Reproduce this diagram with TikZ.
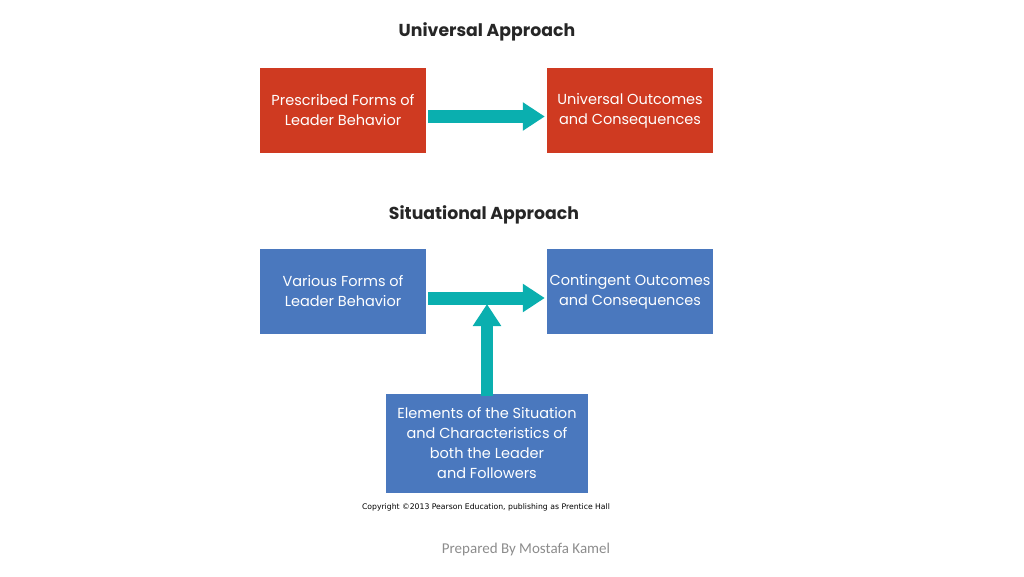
\documentclass[tikz,border=0pt]{standalone}
\usepackage{fontspec}
\setmainfont{Poppins}
\newfontfamily\copyfont{DejaVu Sans}
\newfontfamily\prepfont{Carlito}
\usetikzlibrary{arrows.meta}
\definecolor{boxred}{HTML}{CF3A21}
\definecolor{boxblue}{HTML}{4A78BE}
\definecolor{arrteal}{HTML}{0AAFAF}
\definecolor{prepgray}{HTML}{8C8C8C}
\tikzset{
  redbox/.style={fill=boxred, text=white, minimum width=166pt, minimum height=85pt, inner sep=0pt, align=center, font=\fontsize{14.5}{20}\selectfont},
  bluebox/.style={fill=boxblue, text=white, minimum width=166pt, minimum height=85pt, inner sep=0pt, align=center, font=\fontsize{14.5}{20}\selectfont},
  titletext/.style={font=\fontsize{17.3}{20}\selectfont\bfseries, text=black!85},
  fatarrow/.style={draw=arrteal, line width=13pt, -{Triangle[length=22pt,width=27pt]}},
}
\begin{document}
\begin{tikzpicture}[x=1pt,y=-1pt]
\useasboundingbox (0,0) rectangle (1024,576);
\node[titletext] (t1) at (487,32) {Universal Approach};
\node[redbox] (p1) at (343,110.5) {Prescribed Forms of\\Leader Behavior};
\node[redbox] (u1) at (630,110.5) {Universal Outcomes\\and Consequences};
\draw[fatarrow] ([yshift=-6pt]p1.east) ++(2,0) coordinate (a1s) -- ([yshift=-6pt,xshift=-2pt]u1.west) coordinate (a1e);
\node[titletext] (t2) at (484,215) {Situational Approach};
\node[bluebox] (v1) at (343,291.5) {Various Forms of\\Leader Behavior};
\node[bluebox] (c1) at (630,291.5) {Contingent Outcomes\\and Consequences};
\draw[fatarrow] ([yshift=-6.5pt]v1.east) ++(2,0) coordinate (a2s) -- ([yshift=-6.5pt,xshift=-2pt]c1.west) coordinate (a2e);
\node[bluebox, minimum width=202pt, minimum height=99pt] (el) at (487,443.5) {Elements of the Situation\\and Characteristics of\\both the Leader\\and Followers};
\coordinate (mid) at (487,304);
\draw[fatarrow, line width=12pt] ([yshift=-2pt]el.north) -- (mid);
\node[font=\copyfont\fontsize{7.7}{9}\selectfont, text=black] (cp) at (486,507) {Copyright \textcopyright2013 Pearson Education, publishing as Prentice Hall};
\node[font=\prepfont\fontsize{15}{17}\selectfont, text=prepgray] (pb) at (526,549) {Prepared By Mostafa Kamel};
\end{tikzpicture}
\end{document}
